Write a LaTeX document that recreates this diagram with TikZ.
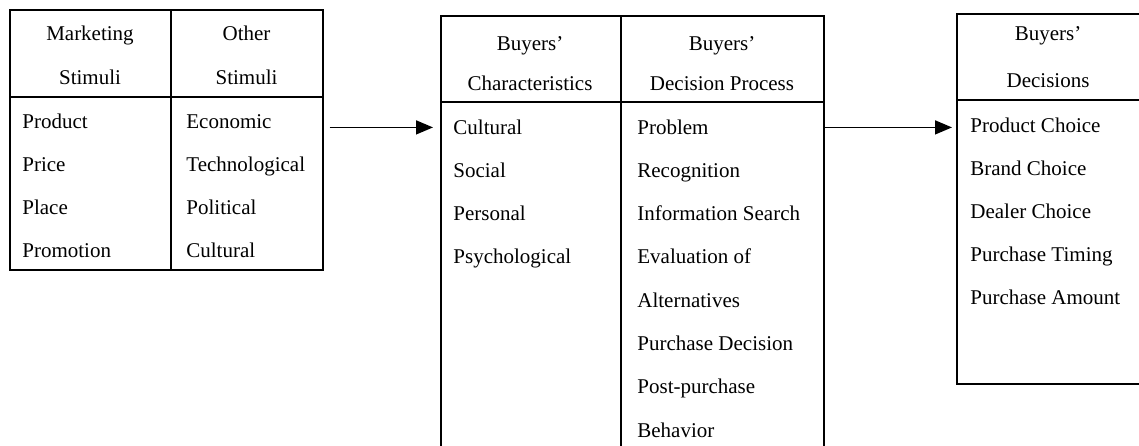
\documentclass[tikz,border=0pt]{standalone}
\usepackage{fontspec}
\setmainfont{Liberation Serif}
\usetikzlibrary{arrows.meta}

\tikzset{
  box/.style={draw, line width=0.75pt, anchor=north west, inner sep=0pt},
  rule/.style={line width=0.75pt},
  item/.style={anchor=base west, inner sep=0pt, font=\fontsize{10.5}{12}\selectfont},
  head/.style={anchor=base, inner sep=0pt, font=\fontsize{10.5}{12}\selectfont},
  flow/.style={-{Triangle[length=8.5pt,width=7pt]}, line width=0.75pt}
}

\begin{document}
\begin{tikzpicture}[x=0.5pt,y=-0.5pt]
\clip (0,0) rectangle (1139,445);

% stimuli
\node[box, minimum width=156.5pt, minimum height=130pt] (stim) at (9,9) {};
\draw[rule] (171,9) -- (171,269);
\draw[rule] (9,97) -- (322,97);
\node[head] (mkh1) at (90,40) {Marketing};
\node[head] (mkh2) at (90,84) {Stimuli};
\node[head] (oth1) at (246.5,40) {Other};
\node[head] (oth2) at (246.5,84) {Stimuli};
\foreach \t [count=\i] in {Product,Price,Place,Promotion}
  \node[item] (mk-\i) at (22,128+43*\i-43) {\t};
\foreach \t [count=\i] in {Economic,Technological,Political,Cultural}
  \node[item] (ot-\i) at (186,128+43*\i-43) {\t};

% buyer's black box
\node[box, minimum width=191.5pt, minimum height=225pt] (chr) at (440,15) {};
\draw[rule] (621,15) -- (621,470);
\draw[rule] (440,102) -- (823,102);
\node[head] (chh1) at (530,50) {Buyers’};
\node[head] (chh2) at (530,90) {Characteristics};
\node[head] (dph1) at (722,50) {Buyers’};
\node[head] (dph2) at (722,90) {Decision Process};
\foreach \t [count=\i] in {Cultural,Social,Personal,Psychological}
  \node[item] (ch-\i) at (453,134+43.3*\i-43.3) {\t};
\foreach \t [count=\i] in {Problem,Recognition,Information Search,Evaluation of,
    Alternatives,Purchase Decision,Post-purchase,Behavior}
  \node[item] (dp-\i) at (637,134+43.3*\i-43.3) {\t};

% responses
\node[box, minimum width=92pt, minimum height=185pt] (dec) at (956,13) {};
\draw[rule] (956,100) -- (1140,100);
\node[head] (dch1) at (1048,40) {Buyers’};
\node[head] (dch2) at (1048,87) {Decisions};
\foreach \t [count=\i] in {Product Choice,Brand Choice,Dealer Choice,
    Purchase Timing,Purchase Amount}
  \node[item] (dc-\i) at (970,132+43*\i-43) {\t};

\draw[flow, shorten <=3pt, shorten >=3.5pt] (stim.east |- dc-1.mid) -- (chr.west |- dc-1.mid);
\draw[flow, shorten >=2pt] (chr.east |- dc-1.mid) -- (dec.west |- dc-1.mid);

\end{tikzpicture}
\end{document}
